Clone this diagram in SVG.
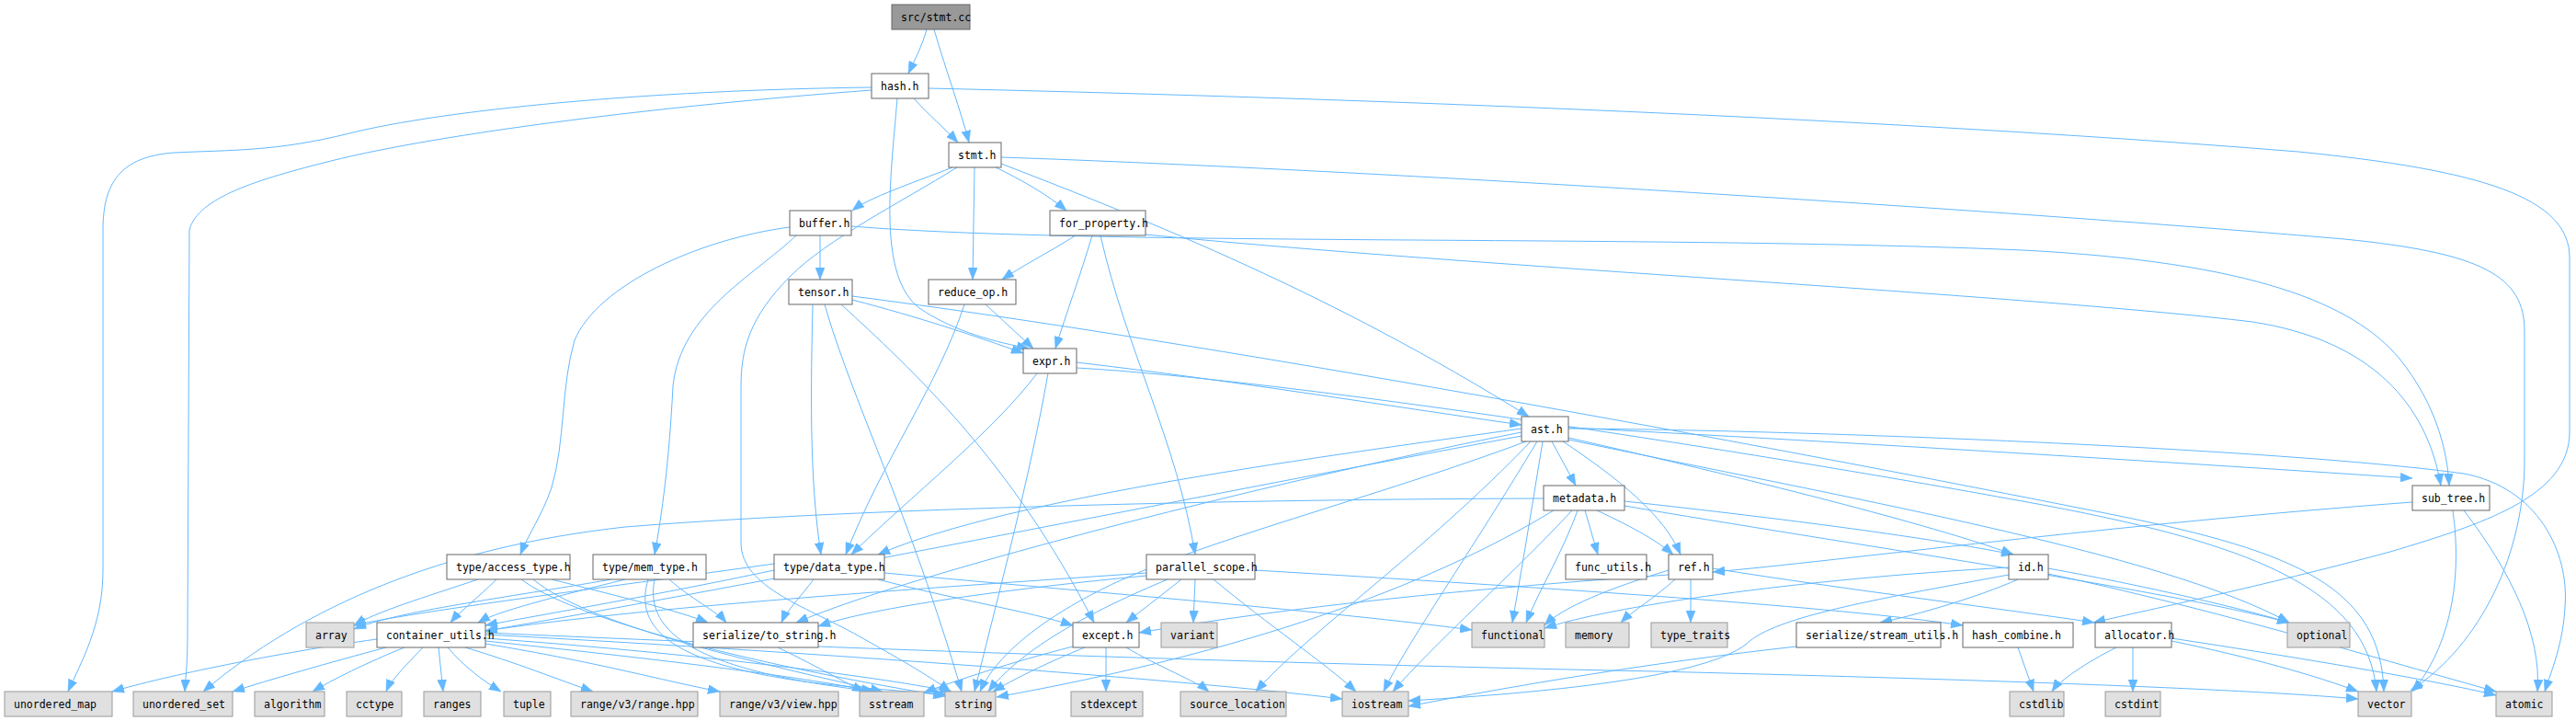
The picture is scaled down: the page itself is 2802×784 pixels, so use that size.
<svg xmlns="http://www.w3.org/2000/svg" width="2802" height="784" viewBox="0 0 2802 784">
<style>
.n rect{fill:#ffffff;stroke:#666666;stroke-width:1}
.g rect{fill:#e0e0e0;stroke:#999999;stroke-width:1}
.r rect{fill:#999999;stroke:#666666;stroke-width:1}
text{font-family:"DejaVu Sans Mono","Liberation Mono",monospace;font-size:11.5px;fill:#000000}
#edges path{fill:none;stroke:#63B8FF;stroke-width:1;marker-end:url(#a)}
</style>
<defs>
<marker id="a" viewBox="0 0 13 10" refX="13" refY="5" markerWidth="13" markerHeight="10" markerUnits="userSpaceOnUse" orient="auto">
<path d="M0,0 L13,5 L0,10 z" fill="#63B8FF" stroke="#63B8FF" stroke-width="0.5"/>
</marker>
</defs>
<rect width="2802" height="784" fill="#ffffff"/>
<g id="edges">
<path d="M1008,32 C1003,50 995,65 988,80"/>
<path d="M1016,32 C1030,80 1045,120 1054,155"/>
<path d="M994,107 C1010,125 1028,140 1042,155"/>
<path d="M948,95 C700,98 480,120 380,145 C300,165 250,163 190,166 C130,170 112,200 112,250 L112,620 C112,680 88,720 74,752"/>
<path d="M948,98 C720,115 480,145 360,175 C280,195 215,215 206,250 L204,690 C204,720 202,735 201,752"/>
<path d="M976,107 C968,200 955,300 1000,335 C1040,362 1085,372 1119,379"/>
<path d="M1010,96 C1400,105 2000,125 2500,165 C2700,185 2795,215 2795,280 L2795,470 C2795,540 2700,570 2600,600 C2450,640 2350,660 2277,677"/>
<path d="M1036,182 C990,200 945,215 927,229"/>
<path d="M1060,182 L1058,304"/>
<path d="M1083,182 C1110,195 1140,212 1160,229"/>
<path d="M1041,182 C980,220 900,260 860,300 C815,345 806,380 806,420 L806,590 C806,640 880,660 940,695 C985,720 1015,738 1034,752"/>
<path d="M1089,171 C1500,185 2200,230 2550,260 C2700,275 2746,300 2746,360 L2746,500 C2746,600 2700,700 2622,751"/>
<path d="M1089,178 C1250,240 1450,320 1663,453"/>
<path d="M892,256 L892,304"/>
<path d="M859,247 C760,260 650,310 625,370 C610,420 615,480 600,530 C590,560 575,580 566,603"/>
<path d="M866,256 C820,300 740,340 732,420 C728,500 720,560 712,603"/>
<path d="M926,246 C1200,268 1800,255 2200,272 C2450,285 2560,330 2610,390 C2650,440 2662,490 2664,528"/>
<path d="M1170,256 C1140,275 1110,290 1090,304"/>
<path d="M1188,256 C1175,300 1160,340 1148,379"/>
<path d="M1197,256 C1225,380 1280,480 1300,603"/>
<path d="M1246,255 C1600,290 2200,320 2450,350 C2580,370 2640,440 2655,528"/>
<path d="M884,331 C882,420 880,520 893,603"/>
<path d="M897,331 C925,430 990,560 1046,752"/>
<path d="M915,331 C990,400 1100,500 1190,677"/>
<path d="M927,326 C1000,345 1060,365 1113,384"/>
<path d="M927,322 C1300,370 1900,480 2300,560 C2500,600 2590,640 2593,752"/>
<path d="M1072,331 L1124,379"/>
<path d="M1049,331 C1020,420 960,500 920,603"/>
<path d="M1171,394 C1350,415 1500,440 1655,462"/>
<path d="M1128,406 C1080,470 990,540 926,603"/>
<path d="M1140,406 C1120,520 1085,650 1060,752"/>
<path d="M1171,400 C1400,413 1900,490 2200,545 C2450,590 2575,640 2585,752"/>
<path d="M1655,466 C1450,495 1100,540 955,603"/>
<path d="M1655,470 C1400,520 1000,620 866,677"/>
<path d="M1655,474 C1300,540 800,640 528,686"/>
<path d="M1660,480 C1500,540 1300,590 1200,640 C1120,680 1080,720 1066,752"/>
<path d="M1665,480 C1550,600 1420,690 1366,752"/>
<path d="M1672,480 C1600,600 1530,700 1505,752"/>
<path d="M1678,480 C1665,560 1655,620 1645,677"/>
<path d="M1688,480 L1714,528"/>
<path d="M1700,480 C1760,520 1810,560 1828,603"/>
<path d="M1706,465 C2000,480 2400,505 2624,520"/>
<path d="M1706,466 C2000,468 2500,490 2680,515 C2760,530 2795,600 2790,660 C2788,700 2775,730 2768,752"/>
<path d="M1706,476 C1900,520 2100,570 2190,603"/>
<path d="M1706,478 C2000,540 2350,600 2490,677"/>
<path d="M1679,542 C1300,543 900,555 680,573 C480,595 330,660 221,752"/>
<path d="M1690,555 C1550,640 1350,710 1084,758"/>
<path d="M1710,555 C1650,620 1560,700 1515,752"/>
<path d="M1716,555 C1700,600 1675,640 1660,677"/>
<path d="M1724,555 L1738,603"/>
<path d="M1737,555 C1780,575 1805,590 1820,603"/>
<path d="M1767,545 C1950,565 2100,585 2190,603"/>
<path d="M1767,550 C2000,590 2350,640 2490,677"/>
<path d="M2624,546 C2300,570 2000,610 1863,622"/>
<path d="M2668,555 C2680,640 2660,710 2624,752"/>
<path d="M2680,555 C2730,620 2765,690 2760,752"/>
<path d="M1815,620 C1750,640 1700,660 1680,680"/>
<path d="M1822,630 C1800,650 1775,665 1763,677"/>
<path d="M1839,630 L1839,677"/>
<path d="M1815,625 C1600,640 1400,660 1239,688"/>
<path d="M1863,618 C2000,640 2200,665 2278,677"/>
<path d="M2185,617 C1950,630 1750,660 1680,683"/>
<path d="M2185,625 C2050,650 1930,670 1900,700 C1850,740 1650,755 1532,762"/>
<path d="M2195,630 C2150,650 2080,670 2045,677"/>
<path d="M2228,618 C2350,640 2450,665 2490,677"/>
<path d="M2228,624 C2400,660 2600,720 2715,752"/>
<path d="M1954,703 C1800,720 1650,745 1532,768"/>
<path d="M2195,704 L2212,752"/>
<path d="M2302,704 C2270,720 2240,740 2232,752"/>
<path d="M2320,704 L2320,752"/>
<path d="M2362,697 C2450,715 2520,735 2565,752"/>
<path d="M2362,694 C2500,715 2650,740 2715,756"/>
<path d="M410,695 C300,710 180,735 122,752"/>
<path d="M420,704 C360,720 290,740 253,752"/>
<path d="M440,704 C400,720 360,740 340,752"/>
<path d="M460,704 C440,725 425,740 420,752"/>
<path d="M477,704 L482,752"/>
<path d="M487,704 C505,725 525,740 545,752"/>
<path d="M506,704 C560,720 610,740 645,752"/>
<path d="M528,700 C650,720 720,740 783,752"/>
<path d="M528,697 C700,715 870,735 950,752"/>
<path d="M528,694 C750,710 950,735 1035,752"/>
<path d="M528,690 C900,710 1300,740 1460,760"/>
<path d="M528,688 C900,705 1400,722 1800,730 C2200,740 2450,750 2565,760"/>
<path d="M520,630 C460,650 410,665 385,680"/>
<path d="M540,630 C520,650 500,665 490,677"/>
<path d="M600,630 C680,650 740,665 770,677"/>
<path d="M567,630 C620,670 800,720 1028,757"/>
<path d="M580,630 C640,680 820,720 960,752"/>
<path d="M665,630 C550,650 430,665 385,684"/>
<path d="M680,630 C600,650 540,665 520,677"/>
<path d="M728,630 C750,650 780,665 790,677"/>
<path d="M705,630 C690,680 720,730 940,748 C990,752 1010,754 1030,756"/>
<path d="M712,630 C700,690 760,730 952,752"/>
<path d="M842,613 C650,640 450,665 385,680"/>
<path d="M842,620 C700,650 580,670 528,680"/>
<path d="M885,630 C870,650 855,665 850,677"/>
<path d="M955,630 C1030,650 1120,665 1167,680"/>
<path d="M962,623 C1200,645 1450,665 1601,685"/>
<path d="M1247,623 C1000,640 700,660 528,686"/>
<path d="M1247,626 C1100,640 950,660 890,681"/>
<path d="M1270,630 C1150,680 1100,720 1075,752"/>
<path d="M1285,630 C1260,650 1240,665 1225,677"/>
<path d="M1300,630 L1298,677"/>
<path d="M1320,630 C1380,680 1440,720 1475,752"/>
<path d="M1365,620 C1700,640 2000,660 2135,680"/>
<path d="M1167,703 C1100,720 1040,740 1005,753"/>
<path d="M1180,704 C1140,720 1100,740 1080,752"/>
<path d="M1203,704 L1203,752"/>
<path d="M1225,704 C1260,725 1300,740 1315,752"/>
<path d="M846,704 C880,720 915,740 940,752"/>
</g>
<g id="n_stmt_cc" class="r"><rect x="970" y="5" width="85" height="27"/><text x="980" y="23">src/stmt.cc</text></g>
<g id="n_hash" class="n"><rect x="948" y="80" width="62" height="27"/><text x="958" y="98">hash.h</text></g>
<g id="n_stmt" class="n"><rect x="1032" y="155" width="57" height="27"/><text x="1042" y="173">stmt.h</text></g>
<g id="n_buffer" class="n"><rect x="859" y="229" width="67" height="27"/><text x="869" y="247">buffer.h</text></g>
<g id="n_for_property" class="n"><rect x="1142" y="229" width="104" height="27"/><text x="1152" y="247">for_property.h</text></g>
<g id="n_tensor" class="n"><rect x="858" y="304" width="69" height="27"/><text x="868" y="322">tensor.h</text></g>
<g id="n_reduce_op" class="n"><rect x="1010" y="304" width="95" height="27"/><text x="1020" y="322">reduce_op.h</text></g>
<g id="n_expr" class="n"><rect x="1113" y="379" width="58" height="27"/><text x="1123" y="397">expr.h</text></g>
<g id="n_ast" class="n"><rect x="1655" y="453" width="51" height="27"/><text x="1665" y="471">ast.h</text></g>
<g id="n_metadata" class="n"><rect x="1679" y="528" width="88" height="27"/><text x="1689" y="546">metadata.h</text></g>
<g id="n_sub_tree" class="n"><rect x="2624" y="528" width="84" height="27"/><text x="2634" y="546">sub_tree.h</text></g>
<g id="n_access_type" class="n"><rect x="486" y="603" width="134" height="27"/><text x="496" y="621">type/access_type.h</text></g>
<g id="n_mem_type" class="n"><rect x="645" y="603" width="123" height="27"/><text x="655" y="621">type/mem_type.h</text></g>
<g id="n_data_type" class="n"><rect x="842" y="603" width="120" height="27"/><text x="852" y="621">type/data_type.h</text></g>
<g id="n_parallel_scope" class="n"><rect x="1247" y="603" width="118" height="27"/><text x="1257" y="621">parallel_scope.h</text></g>
<g id="n_func_utils" class="n"><rect x="1703" y="603" width="88" height="27"/><text x="1713" y="621">func_utils.h</text></g>
<g id="n_ref" class="n"><rect x="1815" y="603" width="48" height="27"/><text x="1825" y="621">ref.h</text></g>
<g id="n_id" class="n"><rect x="2185" y="603" width="43" height="27"/><text x="2195" y="621">id.h</text></g>
<g id="n_array" class="g"><rect x="333" y="677" width="52" height="27"/><text x="343" y="695">array</text></g>
<g id="n_container_utils" class="n"><rect x="410" y="677" width="118" height="27"/><text x="420" y="695">container_utils.h</text></g>
<g id="n_to_string" class="n"><rect x="754" y="677" width="136" height="27"/><text x="764" y="695">serialize/to_string.h</text></g>
<g id="n_except" class="n"><rect x="1167" y="677" width="72" height="27"/><text x="1177" y="695">except.h</text></g>
<g id="n_variant" class="g"><rect x="1263" y="677" width="61" height="27"/><text x="1273" y="695">variant</text></g>
<g id="n_functional" class="g"><rect x="1601" y="677" width="79" height="27"/><text x="1611" y="695">functional</text></g>
<g id="n_memory" class="g"><rect x="1703" y="677" width="69" height="27"/><text x="1713" y="695">memory</text></g>
<g id="n_type_traits" class="g"><rect x="1796" y="677" width="83" height="27"/><text x="1806" y="695">type_traits</text></g>
<g id="n_stream_utils" class="n"><rect x="1954" y="677" width="157" height="27"/><text x="1964" y="695">serialize/stream_utils.h</text></g>
<g id="n_hash_combine" class="n"><rect x="2135" y="677" width="120" height="27"/><text x="2145" y="695">hash_combine.h</text></g>
<g id="n_allocator" class="n"><rect x="2279" y="677" width="83" height="27"/><text x="2289" y="695">allocator.h</text></g>
<g id="n_optional" class="g"><rect x="2488" y="677" width="68" height="27"/><text x="2498" y="695">optional</text></g>
<g id="n_unordered_map" class="g"><rect x="5" y="752" width="117" height="27"/><text x="15" y="770">unordered_map</text></g>
<g id="n_unordered_set" class="g"><rect x="145" y="752" width="108" height="27"/><text x="155" y="770">unordered_set</text></g>
<g id="n_algorithm" class="g"><rect x="277" y="752" width="76" height="27"/><text x="287" y="770">algorithm</text></g>
<g id="n_cctype" class="g"><rect x="377" y="752" width="60" height="27"/><text x="387" y="770">cctype</text></g>
<g id="n_ranges" class="g"><rect x="461" y="752" width="62" height="27"/><text x="471" y="770">ranges</text></g>
<g id="n_tuple" class="g"><rect x="548" y="752" width="51" height="27"/><text x="558" y="770">tuple</text></g>
<g id="n_range_hpp" class="g"><rect x="621" y="752" width="138" height="27"/><text x="631" y="770">range/v3/range.hpp</text></g>
<g id="n_view_hpp" class="g"><rect x="783" y="752" width="129" height="27"/><text x="793" y="770">range/v3/view.hpp</text></g>
<g id="n_sstream" class="g"><rect x="935" y="752" width="70" height="27"/><text x="945" y="770">sstream</text></g>
<g id="n_string" class="g"><rect x="1028" y="752" width="55" height="27"/><text x="1038" y="770">string</text></g>
<g id="n_stdexcept" class="g"><rect x="1165" y="752" width="78" height="27"/><text x="1175" y="770">stdexcept</text></g>
<g id="n_source_location" class="g"><rect x="1284" y="752" width="115" height="27"/><text x="1294" y="770">source_location</text></g>
<g id="n_iostream" class="g"><rect x="1460" y="752" width="72" height="27"/><text x="1470" y="770">iostream</text></g>
<g id="n_cstdlib" class="g"><rect x="2186" y="752" width="59" height="27"/><text x="2196" y="770">cstdlib</text></g>
<g id="n_cstdint" class="g"><rect x="2290" y="752" width="60" height="27"/><text x="2300" y="770">cstdint</text></g>
<g id="n_vector" class="g"><rect x="2565" y="752" width="58" height="27"/><text x="2575" y="770">vector</text></g>
<g id="n_atomic" class="g"><rect x="2715" y="752" width="61" height="27"/><text x="2725" y="770">atomic</text></g>
</svg>
